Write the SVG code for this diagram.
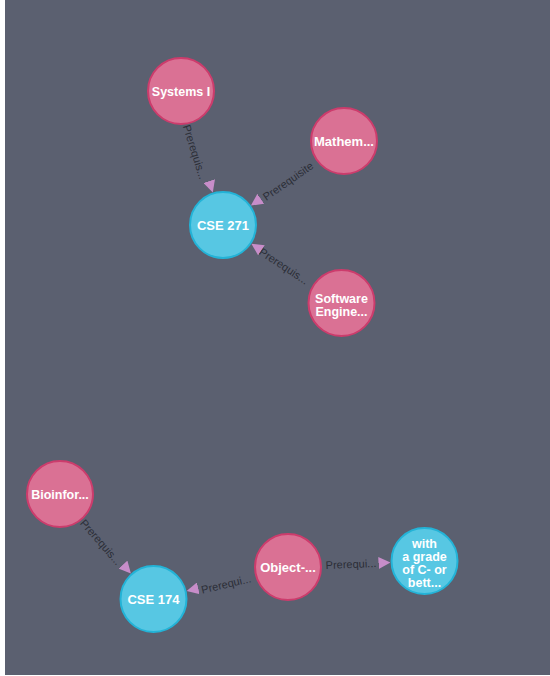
<svg xmlns="http://www.w3.org/2000/svg" width="550" height="676" viewBox="0 0 550 676">
<defs>
<style>
.bg{fill:#5b6070}
.pink{fill:#da7194;stroke:#cc3c6c;stroke-width:2}
.blue{fill:#57c7e3;stroke:#23b3d7;stroke-width:2}
.nl{font-family:"Liberation Sans",Arial,sans-serif;font-size:13px;font-weight:bold;fill:#ffffff;text-anchor:middle}
.nl2{font-family:"Liberation Sans",Arial,sans-serif;font-size:12.5px;font-weight:bold;fill:#ffffff;text-anchor:middle}
.edge{stroke:none;fill:none}
.el{font-family:"Liberation Sans",Arial,sans-serif;font-size:11px;fill:#2b2e37;text-anchor:middle;dominant-baseline:central}
</style>
<marker id="arr" markerUnits="userSpaceOnUse" markerWidth="12" markerHeight="12" refX="10" refY="5" orient="auto" viewBox="0 0 10 10">
<path d="M0,0 L10,5 L0,10 z" fill="#c78dc9"/>
</marker>
</defs>
<rect width="550" height="676" fill="#ffffff"/>
<rect class="bg" x="5" y="0" width="545" height="675"/>
<g id="connectors">
<line class="edge" x1="191.2" y1="123.4" x2="212.8" y2="192.6" marker-end="url(#arr)"/>
<text class="el" transform="translate(195,152) rotate(72.6)">Prerequis...</text>
<line class="edge" x1="316.1" y1="160.4" x2="250.9" y2="205.6" marker-end="url(#arr)"/>
<text class="el" transform="translate(288,181) rotate(-34.8)">Prerequisite</text>
<line class="edge" x1="313.1" y1="284.3" x2="251.4" y2="243.7" marker-end="url(#arr)"/>
<text class="el" transform="translate(284,266) rotate(33.4)">Prerequis...</text>
<line class="edge" x1="82.6" y1="519.4" x2="130.9" y2="573.6" marker-end="url(#arr)"/>
<text class="el" transform="translate(101,542) rotate(49)">Prerequis...</text>
<line class="edge" x1="254.9" y1="574.9" x2="186.6" y2="591.1" marker-end="url(#arr)"/>
<text class="el" transform="translate(226,584) rotate(-13.4)">Prerequi...</text>
<line class="edge" x1="322" y1="565.5" x2="390.5" y2="562.5" marker-end="url(#arr)"/>
<text class="el" transform="translate(351,564) rotate(-2.5)">Prerequi...</text>
</g>
<g id="systems1"><circle class="pink" cx="181" cy="91" r="33"/><text class="nl2" x="181" y="95.5">Systems I</text></g>
<g id="mathem"><circle class="pink" cx="344" cy="141" r="33"/><text class="nl" x="344" y="145.5">Mathem...</text></g>
<g id="cse271"><circle class="blue" cx="223" cy="225" r="33"/><text class="nl" x="223" y="229.5">CSE 271</text></g>
<g id="software"><circle class="pink" cx="341.5" cy="303" r="33"/><text class="nl2" x="341.5" y="302.5">Software</text><text class="nl2" x="341.5" y="316">Engine...</text></g>
<g id="bioinfor"><circle class="pink" cx="60" cy="494" r="33"/><text class="nl2" x="60" y="498.5">Bioinfor...</text></g>
<g id="cse174"><circle class="blue" cx="153.5" cy="599" r="33"/><text class="nl" x="153.5" y="603.5">CSE 174</text></g>
<g id="object"><circle class="pink" cx="288" cy="567" r="33"/><text class="nl" x="288" y="571.5">Object-...</text></g>
<g id="withgrade"><circle class="blue" cx="424.5" cy="561" r="33"/><text class="nl2" x="424.5" y="548">with</text><text class="nl2" x="424.5" y="561">a grade</text><text class="nl2" x="424.5" y="574">of C- or</text><text class="nl2" x="424.5" y="587">bett...</text></g>
</svg>
